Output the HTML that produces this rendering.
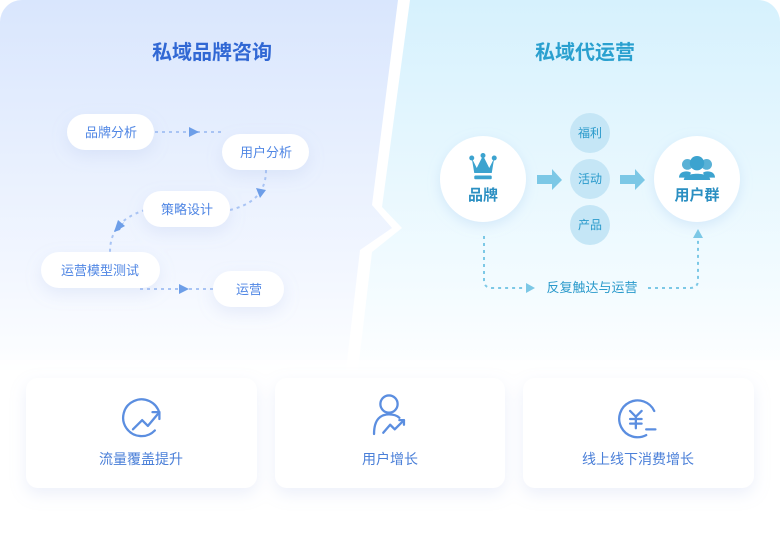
<!DOCTYPE html>
<html><head><meta charset="utf-8"><style>
body{margin:0;width:780px;height:530px;overflow:hidden;background:#fff;font-family:"Liberation Sans","Noto Sans CJK SC",sans-serif}
</style></head><body>
<svg width="780" height="530" viewBox="0 0 780 530" xmlns="http://www.w3.org/2000/svg" font-family="Liberation Sans, Noto Sans CJK SC, sans-serif">
<defs>
<linearGradient id="gl" x1="0" y1="0" x2="0" y2="1"><stop offset="0" stop-color="#d9e6fd"/><stop offset="0.75" stop-color="#f3f7ff"/><stop offset="1" stop-color="#fdfeff"/></linearGradient>
<linearGradient id="gr" x1="0" y1="0" x2="0" y2="1"><stop offset="0" stop-color="#d6f1fd"/><stop offset="0.75" stop-color="#f2fbff"/><stop offset="1" stop-color="#fdfeff"/></linearGradient>
<filter id="sh" x="-30%" y="-40%" width="160%" height="190%"><feDropShadow dx="0" dy="6" stdDeviation="8" flood-color="#9fb4e6" flood-opacity="0.2"/></filter>
<filter id="sh2" x="-30%" y="-30%" width="160%" height="170%"><feDropShadow dx="0" dy="4" stdDeviation="6" flood-color="#9ec5ee" flood-opacity="0.3"/></filter>
<clipPath id="c"><rect width="780" height="530" rx="22"/></clipPath>
</defs>
<g clip-path="url(#c)">
<rect width="780" height="530" fill="#fff"/>
<path d="M0 0H398L372 205L392 228L360 250L346 370H0Z" fill="url(#gl)"/>
<path d="M410 0H780V370H358L372 252L402 228L382 207Z" fill="url(#gr)"/>
<rect y="360" width="780" height="170" fill="#fff" opacity="0.6"/>
</g>
<text x="212" y="59" text-anchor="middle" font-size="20" font-weight="bold" fill="#3168d4">私域品牌咨询</text>
<text x="585" y="59" text-anchor="middle" font-size="20" font-weight="bold" fill="#2aa0cf">私域代运营</text>

<g stroke="#a9c4f4" stroke-width="2" stroke-dasharray="3 4" fill="none">
<path d="M155 132H222"/>
<path d="M266 170C266 195 250 205 230 210"/>
<path d="M145 210C120 218 110 232 110 252"/>
<path d="M140 289H213"/>
</g>
<g fill="#6d9ee8">
<path d="M189 127L199 132L189 137Z"/>
<path d="M256 188L266 190L260 198Z"/>
<path d="M114 232L124 222L120 230Z"/><path d="M114 232L118 220L125 226Z"/>
<path d="M179 284L189 289L179 294Z"/>
</g>
<g filter="url(#sh)" fill="#fff">
<rect x="67" y="114" width="87" height="36" rx="18"/>
<rect x="222" y="134" width="87" height="36" rx="18"/>
<rect x="143" y="191" width="87" height="36" rx="18"/>
<rect x="41" y="252" width="119" height="36" rx="18"/>
<rect x="213" y="271" width="71" height="36" rx="18"/>
</g>
<g font-size="13" fill="#4f86e4" text-anchor="middle">
<text x="111" y="137">品牌分析</text>
<text x="266" y="157">用户分析</text>
<text x="187" y="214">策略设计</text>
<text x="100" y="275">运营模型测试</text>
<text x="249" y="294">运营</text>
</g>

<g filter="url(#sh2)" fill="#fff">
<circle cx="483" cy="179" r="43"/>
<circle cx="697" cy="179" r="43"/>
</g>
<g fill="#c5e6f6">
<circle cx="590" cy="133" r="20"/><circle cx="590" cy="179" r="20"/><circle cx="590" cy="225" r="20"/>
</g>
<g font-size="12" fill="#2a9acb" text-anchor="middle">
<text x="590" y="137">福利</text><text x="590" y="183">活动</text><text x="590" y="229">产品</text>
</g>
<g fill="#7cc8e6">
<path d="M537 175H552V169L562 180L552 190V184H537Z"/>
<path d="M620 175H635V169L645 180L635 190V184H620Z"/>
</g>
<g fill="#3ca3cf" transform="translate(483 168) scale(1.25) translate(-483 -168)">
<path d="M474 160L478 168L483 158L488 168L492 160L490 172H476Z"/>
<circle cx="474" cy="160" r="2"/><circle cx="483" cy="158" r="2"/><circle cx="492" cy="160" r="2"/>
<rect x="476" y="174" width="14" height="3" rx="1"/>
</g>
<g fill="#3ca3cf" transform="translate(697 168) scale(1.2) translate(-697 -168)">
<circle cx="697" cy="164" r="6"/>
<path d="M686 178C686 171 708 171 708 178Z"/>
<circle cx="689" cy="165" r="4.5" opacity="0.85"/><circle cx="705" cy="165" r="4.5" opacity="0.85"/>
<path d="M682 176C682 170 690 170 692 172L690 176Z M712 176C712 170 704 170 702 172L704 176Z"/>
</g>
<text x="483" y="200" text-anchor="middle" font-size="15" font-weight="bold" fill="#2b8fc2">品牌</text>
<text x="697" y="200" text-anchor="middle" font-size="15" font-weight="bold" fill="#2b8fc2">用户群</text>
<g stroke="#7cc8e6" stroke-width="2" stroke-dasharray="3 4" fill="none">
<path d="M484 236V280Q484 288 492 288H528"/>
<path d="M648 288H690Q698 288 698 280V240"/>
</g>
<g fill="#7cc8e6"><path d="M526 283L535 288L526 293Z"/><path d="M693 238L698 229L703 238Z"/></g>
<text x="592" y="292" text-anchor="middle" font-size="13" fill="#2a9acb">反复触达与运营</text>

<g filter="url(#sh)" fill="#fff">
<rect x="26" y="378" width="231" height="110" rx="12"/>
<rect x="275" y="378" width="230" height="110" rx="12"/>
<rect x="523" y="378" width="231" height="110" rx="12"/>
</g>
<g stroke="#5b8ee0" stroke-width="2" fill="none" stroke-linecap="round" stroke-linejoin="round">
<g transform="translate(141 419) scale(1.15) translate(-131 -418)">
<path d="M147 413A16 16 0 1 0 143 428"/>
<path d="M124 427L132 419L137 424L147 412"/><path d="M141 412H147V418"/>
</g>
<g transform="translate(389 419) scale(1.15) translate(-389 -424)">
<circle cx="389" cy="411" r="7.5"/>
<path d="M376 437C376 424 382 420 389 420C393 420 396 421 398 423"/>
<path d="M384 436L390 429L394 433L402 425"/><path d="M398 425H402V429"/>
</g>
<g transform="translate(637 419) scale(1.15) translate(-637 -418)">
<path d="M652 411A16 16 0 1 0 645 432"/>
<path d="M631 411L636 416L641 411M636 416V426M631 418H641M631 422H641"/>
<path d="M645 427H653"/>
</g>
</g>
<g font-size="14" fill="#4a7fd8" text-anchor="middle">
<text x="141" y="464">流量覆盖提升</text>
<text x="390" y="464">用户增长</text>
<text x="638" y="464">线上线下消费增长</text>
</g>
</svg>
</body></html>
